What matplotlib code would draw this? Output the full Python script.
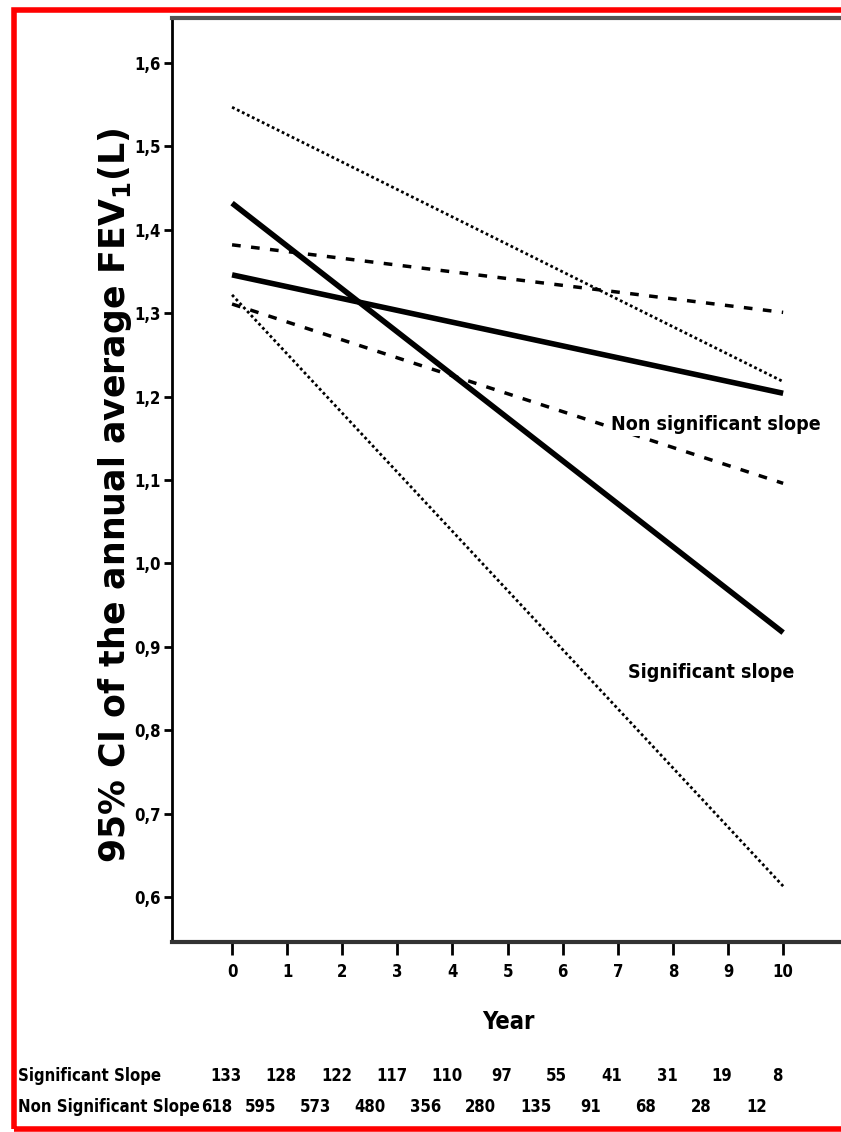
import matplotlib.pyplot as plt
from matplotlib.patches import Rectangle

plt.rcParams['font.family'] = ['Liberation Sans Narrow', 'DejaVu Sans']
plt.rcParams['font.stretch'] = 'condensed'

####################### data #######################
years = [0, 10]
# significant slope group: mean and 95% CI
sig_mean = [1.432, 0.917]
sig_upper = [1.547, 1.218]
sig_lower = [1.322, 0.613]
# non significant slope group
nonsig_mean = [1.346, 1.204]
nonsig_upper = [1.382, 1.301]
nonsig_lower = [1.311, 1.096]

year_ticks = list(range(11))
y_ticks = [0.6, 0.7, 0.8, 0.9, 1.0, 1.1, 1.2, 1.3, 1.4, 1.5, 1.6]
row_names = ["Significant Slope", "Non Significant Slope"]
n_sig = [133, 128, 122, 117, 110, 97, 55, 41, 31, 19, 8]
n_nonsig = [618, 595, 573, 480, 356, 280, 135, 91, 68, 28, 12]

####################### figure #######################
W, H = 841, 1132
fig = plt.figure(figsize=(W / 100, H / 100), dpi=100)

# axes from pixel box (left 172, top 18, bottom 942, runs off the right edge)
ax = fig.add_axes([172 / W, 1 - 942 / H, 1 - 172 / W, (942 - 18) / H])
ax.set_xlim(-1.09, 11.05)
ax.set_ylim(0.546, 1.654)

ax.plot(years, sig_upper, color='black', lw=2, ls=(0, (1, 1)))
ax.plot(years, sig_lower, color='black', lw=2, ls=(0, (1, 1)))
ax.plot(years, nonsig_upper, color='black', lw=2.5, ls=(0, (2.5, 3)))
ax.plot(years, nonsig_lower, color='black', lw=2.5, ls=(0, (2.5, 3)))
ax.plot(years, sig_mean, color='black', lw=4, solid_capstyle='butt')
ax.plot(years, nonsig_mean, color='black', lw=4, solid_capstyle='butt')

ax.text(10.68, 1.166, "Non significant slope", ha='right', va='center', fontsize=14,
        fontweight='bold', zorder=5,
        bbox=dict(facecolor='white', edgecolor='none', pad=1))
ax.text(8.7, 0.869, "Significant slope", ha='center', va='center', fontsize=14,
        fontweight='bold', zorder=5)

ax.spines['right'].set_visible(False)
ax.spines['left'].set_linewidth(2)
ax.spines['top'].set_linewidth(3)
ax.spines['top'].set_color('#555555')
ax.spines['bottom'].set_linewidth(3)
ax.spines['bottom'].set_color('#333333')

ax.set_xticks(year_ticks)
ax.set_xticklabels([str(t) for t in year_ticks])
ax.set_yticks(y_ticks)
ax.set_yticklabels([("%.1f" % v).replace('.', ',') for v in y_ticks])
ax.tick_params(axis='x', length=9, width=2, labelsize=12, pad=6)
ax.tick_params(axis='y', length=6, width=2, labelsize=12, pad=2)
for lab in ax.get_xticklabels() + ax.get_yticklabels():
    lab.set_fontweight('bold')

fig.text(115 / W, 1 - 495 / H, "95% CI of the annual average FEV$_\\mathregular{1}$(L)",
         rotation=90, ha='center', va='center', fontsize=25, fontweight='bold',
         family='DejaVu Sans', stretch='normal')
fig.text(508 / W, 1 - 1022 / H, "Year", ha='center', va='center', fontsize=17,
         fontweight='bold')

# numbers at risk table under the axis (second row sits a bit to the left)
row_shift = [-6, -27]
for row, (name, counts) in enumerate(zip(row_names, [n_sig, n_nonsig])):
    ypix = 1076 + row * 31
    fig.text(18 / W, 1 - ypix / H, name, ha='left', va='center', fontsize=12, fontweight='bold')
    for t, c in zip(year_ticks, counts):
        xpix = ax.transData.transform((t, 0))[0] + row_shift[row]
        xpix = max(xpix, 217)
        fig.text(xpix / W, 1 - ypix / H, str(c), ha='center', va='center',
                 fontsize=12, fontweight='bold')

# red frame
fig.patches.append(Rectangle((14 / W, 1 - 1129 / H), 1.0, (1129 - 10) / H,
                             transform=fig.transFigure, fill=False, edgecolor='red',
                             lw=4, zorder=10))

fig.savefig("out.png", dpi=100)
